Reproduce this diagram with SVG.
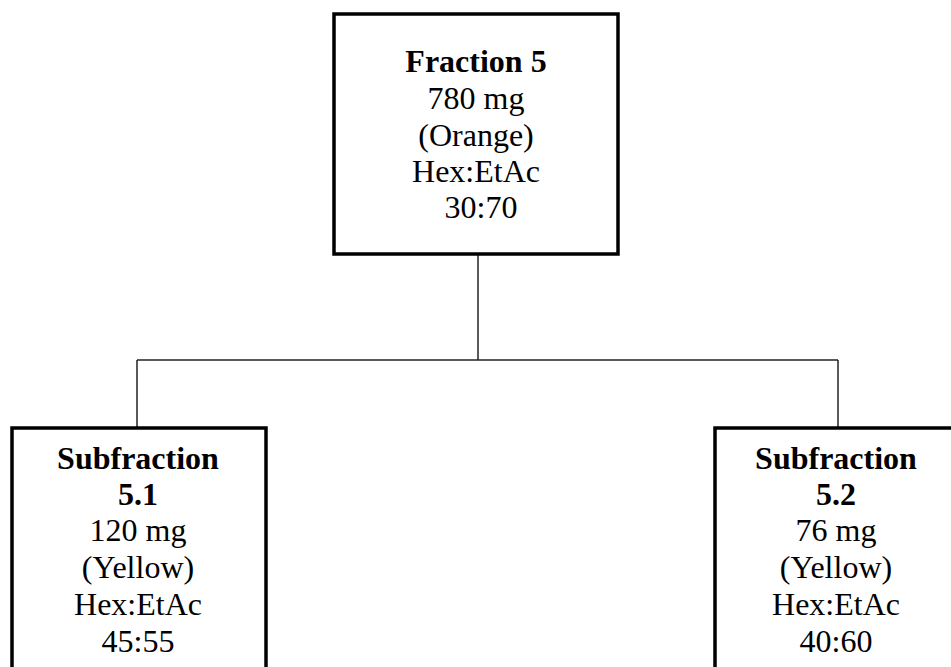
<svg xmlns="http://www.w3.org/2000/svg" width="951" height="667" viewBox="0 0 951 667">
<style>
.box{fill:#fff;stroke:#000;stroke-width:3.5}
.conn{fill:none;stroke:#222;stroke-width:1.5}
text{font-family:"Liberation Serif","Times New Roman",serif;font-size:32px;fill:#000;text-anchor:middle}
.b{font-weight:bold}
</style>
<rect width="951" height="667" fill="#fff"/>
<g id="connectors">
<line class="conn" x1="478" y1="254" x2="478" y2="360"/>
<line class="conn" x1="137" y1="360" x2="838" y2="360"/>
<line class="conn" x1="137" y1="360" x2="137" y2="428"/>
<line class="conn" x1="838" y1="360" x2="838" y2="428"/>
</g>
<g id="fraction5">
<rect class="box" x="334" y="14" width="284" height="240"/>
<text class="b" x="476" y="72">Fraction 5</text>
<text x="476" y="108.5">780 mg</text>
<text x="476" y="145.5">(Orange)</text>
<text x="476" y="182">Hex:EtAc</text>
<text x="481" y="218">30:70</text>
</g>
<g id="sub51">
<rect class="box" x="12" y="428" width="254" height="260"/>
<text class="b" x="138" y="469">Subfraction</text>
<text class="b" x="138" y="505">5.1</text>
<text x="138" y="541">120 mg</text>
<text x="138" y="578">(Yellow)</text>
<text x="138" y="615">Hex:EtAc</text>
<text x="138" y="652">45:55</text>
</g>
<g id="sub52">
<rect class="box" x="715" y="428" width="254" height="260"/>
<text class="b" x="836" y="469">Subfraction</text>
<text class="b" x="836" y="505">5.2</text>
<text x="836" y="541">76 mg</text>
<text x="836" y="578">(Yellow)</text>
<text x="836" y="615">Hex:EtAc</text>
<text x="836" y="652">40:60</text>
</g>
</svg>
